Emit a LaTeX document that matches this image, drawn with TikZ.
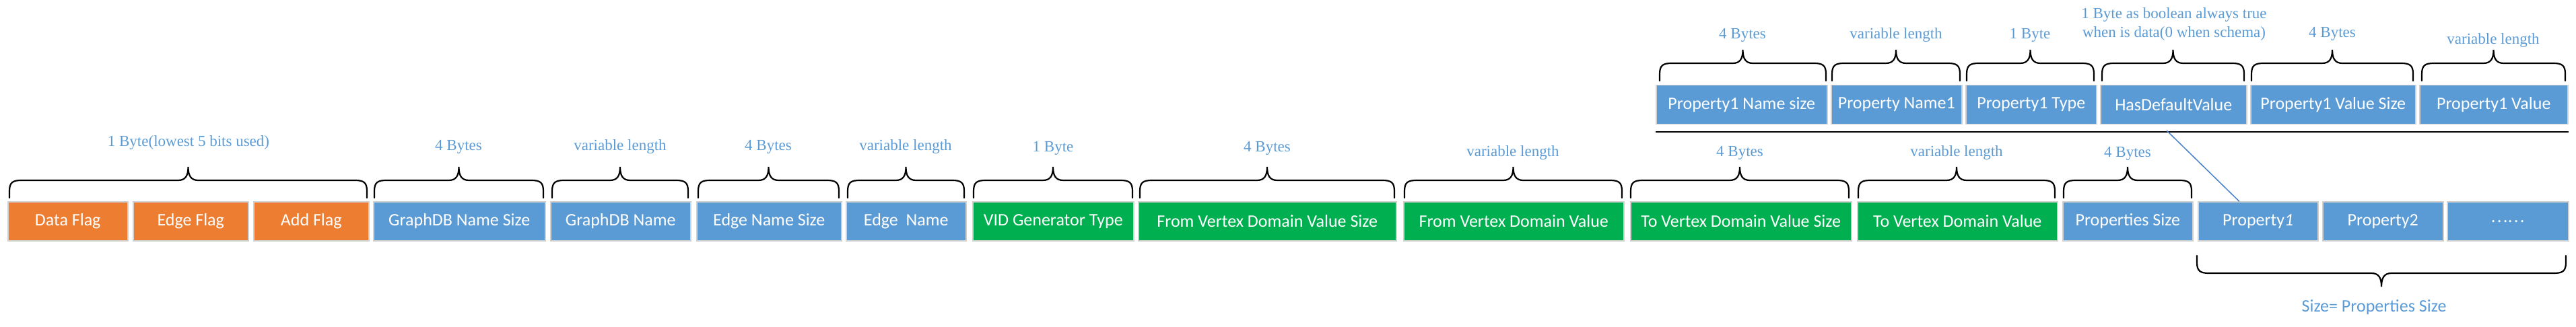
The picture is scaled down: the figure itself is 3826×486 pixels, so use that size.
\documentclass[tikz,border=0pt]{standalone}
\usepackage{fontspec}
\setmainfont{Liberation Serif}
\newfontfamily\boxfont{Carlito}
\newfontfamily\cjkfont{Noto Sans CJK SC}
\usepackage{tikz}
\definecolor{flagorange}{RGB}{237,125,49}
\definecolor{fieldblue}{RGB}{91,155,213}
\definecolor{fieldgreen}{RGB}{0,176,80}
\definecolor{labelblue}{RGB}{91,155,213}
\definecolor{linkblue}{RGB}{72,128,200}
\tikzset{
	field/.style={rectangle, anchor=west, minimum height=58pt, inner sep=0pt, draw=black!18, line width=1.5pt, text=white, font=\boxfont\fontsize{26}{31}\selectfont},
	bytelabel/.style={text=labelblue, font=\fontsize{23}{28}\selectfont, align=center, inner sep=0pt},
	brace line/.style={line width=2.2pt, black, line cap=round},
}
% brace over (or under) a field: x1, x2, y of the ends, direction (-1 up, 1 down)
\def\bytebrace(#1:#2:#3:#4){\draw[brace line] (#1,#3) -- (#1,{#3+#4*10})
	.. controls (#1,{#3+#4*23}) and ({#1+5},{#3+#4*26}) .. ({#1+18},{#3+#4*26})
	-- ({(#1+#2)/2-15},{#3+#4*26})
	.. controls ({(#1+#2)/2-4},{#3+#4*26}) and ({(#1+#2)/2},{#3+#4*33}) .. ({(#1+#2)/2},{#3+#4*46})
	.. controls ({(#1+#2)/2},{#3+#4*33}) and ({(#1+#2)/2+4},{#3+#4*26}) .. ({(#1+#2)/2+15},{#3+#4*26})
	-- ({#2-18},{#3+#4*26})
	.. controls ({#2-5},{#3+#4*26}) and (#2,{#3+#4*23}) .. (#2,{#3+#4*10}) -- (#2,#3);}

\begin{document}
\begin{tikzpicture}[x=1pt, y=-1pt]
	%%%%% START %%%%%
	\useasboundingbox (0,0) rectangle (3826,486);
	
	% property layout
	\node[field, fill=fieldblue, minimum width=254pt] (p1namesize) at (2459,155.5) {Property1 Name size};
	\node[field, fill=fieldblue, minimum width=194pt] (p1name) at (2719,155.5) {Property Name1};
	\node[field, fill=fieldblue, minimum width=194pt] (p1type) at (2919,155.5) {Property1 Type};
	\node[field, fill=fieldblue, minimum width=217pt] (hdv) at (3119,155.5) {HasDefaultValue};
	\node[field, fill=fieldblue, minimum width=245pt] (p1valsize) at (3342,155.5) {Property1 Value Size};
	\node[field, fill=fieldblue, minimum width=220pt] (p1value) at (3593,155.5) {Property1 Value};
	\draw[line width=2.5pt] (p1namesize.south west) ++(0,11) coordinate (rulestart) -- (rulestart -| p1value.east);
	
	\bytebrace(2465:2712:120:-1)
	\bytebrace(2721:2911:120:-1)
	\bytebrace(2921:3110:120:-1)
	\bytebrace(3122:3333:120:-1)
	\bytebrace(3344:3584:120:-1)
	\bytebrace(3597:3810:120:-1)
	\node[bytelabel] (lp1namesize) at (2588,52) {4 Bytes};
	\node[bytelabel] (lp1name) at (2816,52) {variable length};
	\node[bytelabel] (lp1type) at (3015,52) {1 Byte};
	\node[bytelabel] (lhdv) at (3229,36) {1 Byte as boolean always true\\when is data(0 when schema)};
	\node[bytelabel] (lp1valsize) at (3464,50) {4 Bytes};
	\node[bytelabel] (lp1value) at (3703,60) {variable length};
	
	% edge record
	\node[field, fill=flagorange, minimum width=178pt] (dataflag) at (11,329) {Data Flag};
	\node[field, fill=flagorange, minimum width=171pt] (edgeflag) at (197,329) {Edge Flag};
	\node[field, fill=flagorange, minimum width=171pt] (addflag) at (376,329) {Add Flag};
	\node[field, fill=fieldblue, minimum width=255pt] (dbsize) at (554,329) {GraphDB Name Size};
	\node[field, fill=fieldblue, minimum width=208pt] (dbname) at (817,329) {GraphDB Name};
	\node[field, fill=fieldblue, minimum width=215pt] (edgesize) at (1034,329) {Edge Name Size};
	\node[field, fill=fieldblue, minimum width=178pt] (edgename) at (1256,329) {Edge~ Name};
	\node[field, fill=fieldgreen, minimum width=239pt] (vidtype) at (1444,329) {VID Generator Type};
	\node[field, fill=fieldgreen, minimum width=383pt] (fromsize) at (1690,329) {From Vertex Domain Value Size};
	\node[field, fill=fieldgreen, minimum width=327pt] (fromvalue) at (2084,329) {From Vertex Domain Value};
	\node[field, fill=fieldgreen, minimum width=328pt] (tosize) at (2421,329) {To Vertex Domain Value Size};
	\node[field, fill=fieldgreen, minimum width=297pt] (tovalue) at (2758,329) {To Vertex Domain Value};
	\node[field, fill=fieldblue, minimum width=193pt] (propsize) at (3063,329) {Properties Size};
	\node[field, fill=fieldblue, minimum width=178pt] (prop1) at (3264,329) {Property\textit{1}};
	\node[field, fill=fieldblue, minimum width=179pt] (prop2) at (3449,329) {Property2};
	\node[field, fill=fieldblue, minimum width=180pt] (propmore) at (3634,329) {\cjkfont\fontsize{24}{28}\selectfont ……};
	
	\bytebrace(14:545:294:-1)
	\bytebrace(556:807:294:-1)
	\bytebrace(820:1022:294:-1)
	\bytebrace(1037:1246:294:-1)
	\bytebrace(1259:1432:294:-1)
	\bytebrace(1446:1682:294:-1)
	\bytebrace(1693:2071:294:-1)
	\bytebrace(2086:2409:294:-1)
	\bytebrace(2422:2746:294:-1)
	\bytebrace(2760:3052:294:-1)
	\bytebrace(3065:3255:294:-1)
	\node[bytelabel] (lflags) at (280,212) {1 Byte(lowest 5 bits used)};
	\node[bytelabel] (ldbsize) at (681,218) {4 Bytes};
	\node[bytelabel] (ldbname) at (921,218) {variable length};
	\node[bytelabel] (ledgesize) at (1141,218) {4 Bytes};
	\node[bytelabel] (ledgename) at (1345,218) {variable length};
	\node[bytelabel] (lvidtype) at (1564,220) {1 Byte};
	\node[bytelabel] (lfromsize) at (1882,220) {4 Bytes};
	\node[bytelabel] (lfromvalue) at (2247,227) {variable length};
	\node[bytelabel] (ltosize) at (2584,227) {4 Bytes};
	\node[bytelabel] (ltovalue) at (2906,227) {variable length};
	\node[bytelabel] (lpropsize) at (3160,228) {4 Bytes};
	
	% properties count
	\bytebrace(3263:3811:380:1)
	\node[bytelabel, font=\boxfont\fontsize{26}{31}\selectfont] (lprops) at (3526,457) {Size= Properties Size};
	
	\draw[linkblue, line width=1.5pt] ([xshift=-10pt, yshift=-9pt]hdv.south) -- ([xshift=-28pt]prop1.north);
	
	%%%%% END %%%%%
\end{tikzpicture}
\end{document}
